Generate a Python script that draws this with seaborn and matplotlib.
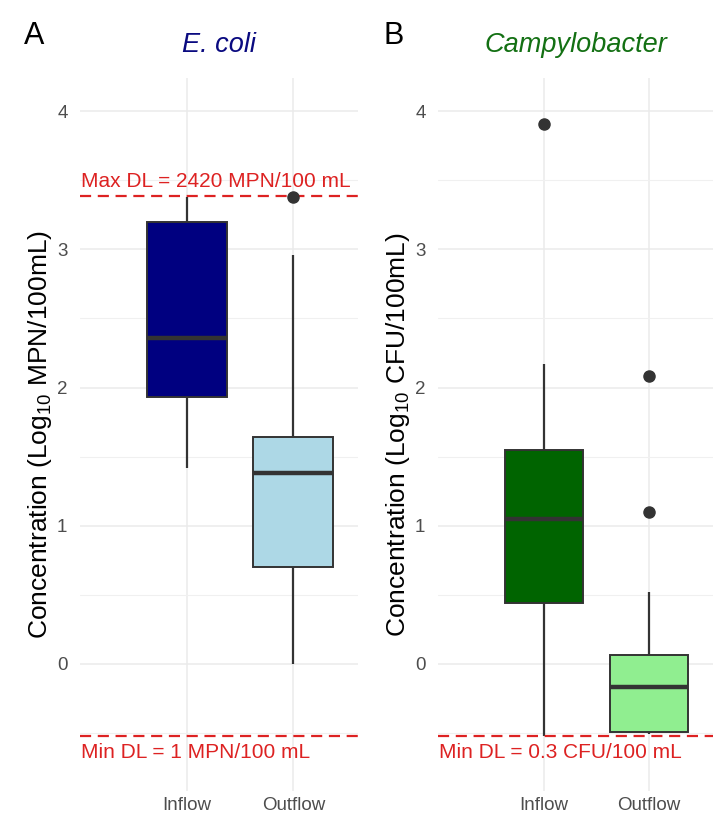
import numpy as np
import pandas as pd
import seaborn as sns
import matplotlib.pyplot as plt
from matplotlib.ticker import MultipleLocator
import matplotlib.transforms as mtransforms

# values (log10 units)
categories = ["Inflow", "Outflow"]

ecoli_whislo = [1.42, 0.00]
ecoli_q1 = [1.93, 0.70]
ecoli_med = [2.36, 1.38]
ecoli_q3 = [3.20, 1.64]
ecoli_whishi = [3.38, 2.96]
ecoli_out = [[], [3.38]]

campy_whislo = [-0.52, -0.51]
campy_q1 = [0.44, -0.49]
campy_med = [1.05, -0.17]
campy_q3 = [1.55, 0.065]
campy_whishi = [2.17, 0.52]
campy_out = [[3.91], [1.10, 2.08]]

ecoli_colors = ["#000080", "#ADD8E6"]
campy_colors = ["#006400", "#90EE90"]

max_dl_ecoli = np.log10(2420)
min_dl = np.log10(0.3)

sns.set_theme(style="whitegrid")
plt.rcParams["font.family"] = ["Liberation Sans", "DejaVu Sans"]
plt.rcParams["mathtext.fontset"] = "custom"
plt.rcParams["mathtext.rm"] = "Liberation Sans"
plt.rcParams["mathtext.it"] = "Liberation Sans:italic"


def build_frame(whislo, q1, med, q3, whishi, out):
    # sample whose quartiles / whiskers / outliers give the read-off box
    rows = []
    for i, cat in enumerate(categories):
        m = 1 + len(out[i])
        vals = [whislo[i]] + [q1[i]] * m + [med[i]] * m + [q3[i]] * m + [whishi[i]] + out[i]
        rows += [(cat, v) for v in vals]
    return pd.DataFrame(rows, columns=["Flow", "Conc"])


df_ecoli = build_frame(ecoli_whislo, ecoli_q1, ecoli_med, ecoli_q3, ecoli_whishi, ecoli_out)
df_campy = build_frame(campy_whislo, campy_q1, campy_med, campy_q3, campy_whishi, campy_out)

fig = plt.figure(figsize=(7.19, 8.22), dpi=100)
ax1 = fig.add_axes([80 / 719, 1 - 791 / 822, 278 / 719, 713 / 822])
ax2 = fig.add_axes([438 / 719, 1 - 791 / 822, 275 / 719, 713 / 822])

red = "#DD2222"
grey = "#4D4D4D"

panels = [
    (ax1, df_ecoli, ecoli_colors, "E. coli", "#0A0A80", "A", 24,
     "Concentration (Log$_{10}$ MPN/100mL)"),
    (ax2, df_campy, campy_colors, "Campylobacter", "#137013", "B", 384,
     "Concentration (Log$_{10}$ CFU/100mL)"),
]

for ax, d, cols, title, tcol, letter, lx, ylab in panels:
    sns.boxplot(data=d, x="Flow", y="Conc", hue="Flow", order=categories,
                hue_order=categories, palette=cols, saturation=1, legend=False,
                width=0.75, linecolor="#333333", linewidth=1.4, showcaps=False,
                flierprops=dict(marker="o", markerfacecolor="#333333",
                                markeredgecolor="#333333", markersize=8),
                medianprops=dict(linewidth=3.2, color="#333333"),
                whiskerprops=dict(linewidth=1.6), ax=ax, zorder=2)
    ax.set_xlim(-1.01, 1.61)
    ax.set_ylim(-0.92, 4.24)
    ax.yaxis.set_major_locator(MultipleLocator(1))
    ax.yaxis.set_minor_locator(MultipleLocator(0.5))
    ax.set_xticks([0, 1])
    ax.set_xticklabels(categories)
    ax.set_yticks([0, 1, 2, 3, 4])
    ax.grid(True, which="major", color="#EBEBEB", linewidth=1.1)
    ax.grid(True, which="minor", axis="y", color="#F0F0F0", linewidth=0.8)
    ax.set_axisbelow(True)
    for s in ax.spines.values():
        s.set_visible(False)
    ax.set_facecolor("white")
    ax.tick_params(axis="both", which="both", length=0, labelsize=13.5,
                   labelcolor=grey)
    ax.tick_params(axis="y", pad=9)
    ax.tick_params(axis="x", pad=4)
    ax.set_xlabel("")
    ax.set_ylabel(ylab, fontsize=19, color="black", labelpad=2)
    ax.set_title(title, fontsize=19.5, style="italic", color=tcol, pad=19)
    fig.text(lx / 719, 1 - 36 / 822, letter, fontsize=22, color="black",
             va="center", ha="left")
    ax.axhline(min_dl, color=red, linestyle=(0, (5, 3)), linewidth=1.6, zorder=3)

# detection limit lines / labels
trans1 = mtransforms.blended_transform_factory(ax1.transAxes, ax1.transData)
trans2 = mtransforms.blended_transform_factory(ax2.transAxes, ax2.transData)
ax1.axhline(max_dl_ecoli, color=red, linestyle=(0, (5, 3)), linewidth=1.6, zorder=1.5)
ax1.text(0.005, max_dl_ecoli + 0.04, "Max DL = 2420 MPN/100 mL", transform=trans1,
         color=red, fontsize=15, va="bottom", ha="left")
ax1.text(0.005, min_dl - 0.05, "Min DL = 1 MPN/100 mL", transform=trans1,
         color=red, fontsize=15, va="top", ha="left")
ax2.text(0.005, min_dl - 0.05, "Min DL = 0.3 CFU/100 mL", transform=trans2,
         color=red, fontsize=15, va="top", ha="left")

fig.savefig("out.png", dpi=100, facecolor="white")
